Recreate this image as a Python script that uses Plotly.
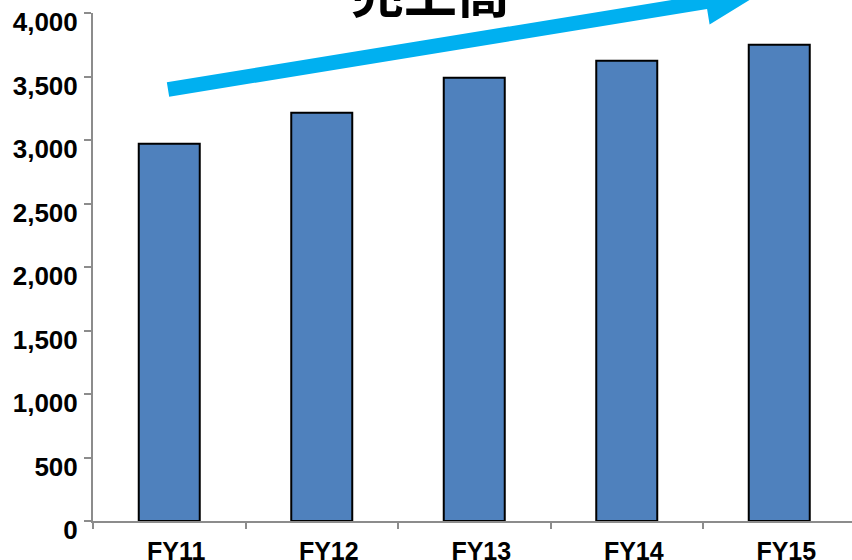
import math
import plotly.graph_objects as go

categories = ["FY11", "FY12", "FY13", "FY14", "FY15"]
sales = [2970, 3215, 3490, 3625, 3750]
y_ticks = [0, 500, 1000, 1500, 2000, 2500, 3000, 3500, 4000]
y_tick_labels = ["0", "500", "1,000", "1,500", "2,000", "2,500", "3,000", "3,500", "4,000"]
title_text = "売上高"

W, H = 852, 560
L, R, T, B = 93, 0, 13, 39
pw, ph = W - L - R, H - T - B

def to_paper(px, py):
    return (px - L) / pw, (H - B - py) / ph

# arrow geometry (pixel space, decoration)
x0, y0 = 168, 89.5
ang = math.atan(0.163)
dx, dy = math.cos(ang), -math.sin(ang)
nx, ny = -dy, dx  # normal
half_body = 7.3
body_len = 545
head_half = 23
head_len = 56
bx, by = x0 + dx * body_len, y0 + dy * body_len
tip = (bx + dx * head_len, by + dy * head_len)
poly = [
    (x0 + nx * half_body, y0 + ny * half_body),
    (bx + nx * half_body, by + ny * half_body),
    (bx + nx * head_half, by + ny * head_half),
    tip,
    (bx - nx * head_half, by - ny * head_half),
    (bx - nx * half_body, by - ny * half_body),
    (x0 - nx * half_body, y0 - ny * half_body),
]
path = "M " + " L ".join(f"{to_paper(px, py)[0]:.5f},{to_paper(px, py)[1]:.5f}" for px, py in poly) + " Z"

font = "Liberation Sans, Arial, sans-serif"

fig = go.Figure(
    go.Bar(
        x=categories,
        y=sales,
        width=0.4,
        marker=dict(color="#4F81BD", line=dict(color="#000000", width=2)),
    )
)

cat_w = 152.5
fig.update_layout(
    width=W,
    height=H,
    margin=dict(l=L, r=R, t=T, b=B, pad=0, autoexpand=False),
    paper_bgcolor="white",
    plot_bgcolor="white",
    showlegend=False,
    xaxis=dict(
        type="category",
        range=[-0.5, -0.5 + pw / cat_w],
        automargin=False,
        showline=True,
        linecolor="#8C8C8C",
        linewidth=2,
        ticks="outside",
        tickson="boundaries",
        ticklen=6,
        tickwidth=2,
        tickcolor="#8C8C8C",
        tickfont=dict(family=font, size=25, color="black", weight="bold"),
        ticklabelstandoff=7,
        ticklabelshift=7,
        ticklabeloverflow="allow",
        showgrid=False,
        zeroline=False,
        fixedrange=True,
    ),
    yaxis=dict(
        range=[0, 4000],
        automargin=False,
        tickvals=y_ticks,
        ticktext=y_tick_labels,
        showline=True,
        linecolor="#8C8C8C",
        linewidth=2,
        ticks="outside",
        ticklen=7,
        tickwidth=2,
        tickcolor="#8C8C8C",
        tickfont=dict(family=font, size=26, color="black", weight="bold"),
        ticklabelstandoff=1,
        ticklabelshift=9,
        ticklabeloverflow="allow",
        showgrid=False,
        zeroline=False,
        fixedrange=True,
    ),
    shapes=[
        dict(type="path", xref="paper", yref="paper", path=path,
             fillcolor="#00B0F0", line=dict(width=0), layer="above")
    ],
    annotations=[
        dict(text=f"<b>{title_text}</b>", xref="paper", yref="paper",
             x=to_paper(430, 0)[0], y=to_paper(0, 30)[1],
             xanchor="center", yanchor="bottom", showarrow=False,
             font=dict(family="Noto Sans CJK JP", size=53, color="black"))
    ],
)

fig.write_html("out.html")
